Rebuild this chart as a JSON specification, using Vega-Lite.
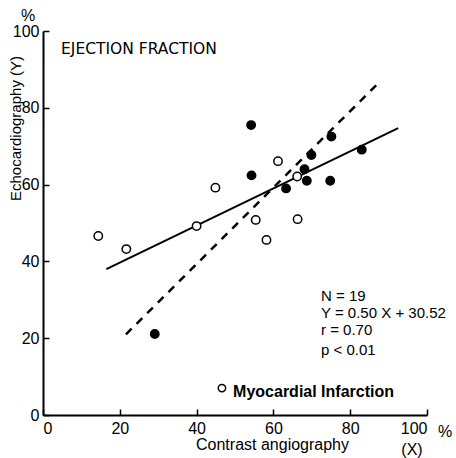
{
  "$schema": "https://vega.github.io/schema/vega-lite/v6.json",
  "width": 384,
  "height": 384,
  "autosize": {"type": "none"},
  "padding": {"left": 43, "top": 31, "right": 29, "bottom": 43},
  "background": "white",
  "config": {
    "view": {"stroke": null},
    "font": "Liberation Sans",
    "axis": {
      "domainColor": "black",
      "domainWidth": 2,
      "tickColor": "black",
      "tickWidth": 1.5,
      "grid": false,
      "labelColor": "black",
      "labelFont": "Liberation Sans",
      "labelFontSize": 16,
      "titleFont": "Liberation Sans",
      "titleFontSize": 16,
      "titleFontWeight": "normal",
      "titleColor": "black"
    }
  },
  "datasets": {
    "points": [
      {"x": 14.4, "y": 46.6, "group": "open"},
      {"x": 21.7, "y": 43.2, "group": "open"},
      {"x": 40.0, "y": 49.2, "group": "open"},
      {"x": 44.9, "y": 59.2, "group": "open"},
      {"x": 61.2, "y": 66.1, "group": "open"},
      {"x": 66.2, "y": 62.1, "group": "open"},
      {"x": 55.4, "y": 50.8, "group": "open"},
      {"x": 58.2, "y": 45.6, "group": "open"},
      {"x": 66.3, "y": 51.0, "group": "open"},
      {"x": 29.1, "y": 21.1, "group": "filled"},
      {"x": 54.2, "y": 75.5, "group": "filled"},
      {"x": 54.3, "y": 62.4, "group": "filled"},
      {"x": 63.3, "y": 59.0, "group": "filled"},
      {"x": 68.1, "y": 64.0, "group": "filled"},
      {"x": 68.7, "y": 61.0, "group": "filled"},
      {"x": 69.9, "y": 67.7, "group": "filled"},
      {"x": 74.8, "y": 61.0, "group": "filled"},
      {"x": 75.1, "y": 72.5, "group": "filled"},
      {"x": 83.0, "y": 69.1, "group": "filled"}
    ],
    "fit": [
      {"x": 16.5, "y": 38.0},
      {"x": 92.5, "y": 74.7}
    ],
    "identity": [
      {"x": 21.6, "y": 21.0},
      {"x": 86.9, "y": 86.0}
    ],
    "stats": [
      {"x": 72.4, "y": 31.0, "text": "N = 19"},
      {"x": 72.4, "y": 26.6, "text": "Y = 0.50 X + 30.52"},
      {"x": 72.4, "y": 22.1, "text": "r  = 0.70"},
      {"x": 72.4, "y": 17.0, "text": "p < 0.01"}
    ],
    "heading": [
      {"x": 4.7, "y": 95.3, "text": "EJECTION  FRACTION"}
    ],
    "legendtext": [
      {"x": 49.5, "y": 6.0, "text": "Myocardial Infarction"}
    ],
    "units": [
      {"x": -3.9, "y": 104.0, "text": "%"},
      {"x": 104.7, "y": -4.4, "text": "%"},
      {"x": 96.1, "y": -9.1, "text": "(X)"}
    ],
    "legendmark": [
      {"x": 46.6, "y": 7.0}
    ]
  },
  "layer": [
    {
      "data": {"name": "fit"},
      "mark": {"type": "line", "color": "black", "strokeWidth": 2},
      "encoding": {
        "x": {
          "field": "x", "type": "quantitative",
          "scale": {"domain": [0, 100], "nice": false},
          "axis": {
            "values": [0, 10, 20, 30, 40, 50, 60, 70, 80, 90, 100],
            "labelExpr": "datum.value % 20 == 0 ? datum.label : ''",
            "tickSize": -6,
            "labelPadding": 11,
            "labelBaseline": "top",
            "title": "Contrast  angiography",
            "titleX": 229,
            "titleY": 29,
            "titleBaseline": "middle",
            "titleAlign": "center"
          }
        },
        "y": {
          "field": "y", "type": "quantitative",
          "scale": {"domain": [0, 100], "nice": false},
          "axis": {
            "values": [0, 10, 20, 30, 40, 50, 60, 70, 80, 90, 100],
            "labelExpr": "datum.value % 20 == 0 ? datum.label : ''",
            "tickSize": -6,
            "labelPadding": 10,
            "title": "Echocardiography (Y)",
            "titleFontSize": 15,
            "titleX": -28,
            "titleY": 97,
            "titleAngle": 270,
            "titleAlign": "center",
            "titleBaseline": "middle"
          }
        }
      }
    },
    {
      "data": {"name": "identity"},
      "mark": {"type": "line", "color": "black", "strokeWidth": 2.5, "strokeDash": [8, 7]},
      "encoding": {
        "x": {"field": "x", "type": "quantitative"},
        "y": {"field": "y", "type": "quantitative"}
      }
    },
    {
      "data": {"name": "points"},
      "mark": {"type": "point", "shape": "circle", "filled": true, "stroke": "black", "strokeWidth": 1.5, "opacity": 1, "size": 70},
      "encoding": {
        "x": {"field": "x", "type": "quantitative"},
        "y": {"field": "y", "type": "quantitative"},
        "fill": {"field": "group", "type": "nominal", "scale": {"domain": ["open", "filled"], "range": ["white", "black"]}, "legend": null}
      }
    },
    {
      "data": {"name": "legendmark"},
      "mark": {"type": "point", "shape": "circle", "filled": false, "stroke": "black", "strokeWidth": 1.5, "opacity": 1, "size": 55},
      "encoding": {
        "x": {"field": "x", "type": "quantitative"},
        "y": {"field": "y", "type": "quantitative"}
      }
    },
    {
      "data": {"name": "stats"},
      "mark": {"type": "text", "align": "left", "baseline": "middle", "font": "Liberation Sans", "fontSize": 15, "color": "black"},
      "encoding": {
        "x": {"field": "x", "type": "quantitative"},
        "y": {"field": "y", "type": "quantitative"},
        "text": {"field": "text"}
      }
    },
    {
      "data": {"name": "heading"},
      "mark": {"type": "text", "align": "left", "baseline": "middle", "font": "DejaVu Sans", "fontSize": 15.5, "color": "black"},
      "encoding": {
        "x": {"field": "x", "type": "quantitative"},
        "y": {"field": "y", "type": "quantitative"},
        "text": {"field": "text"}
      }
    },
    {
      "data": {"name": "legendtext"},
      "mark": {"type": "text", "align": "left", "baseline": "middle", "font": "Liberation Sans", "fontSize": 16, "fontWeight": 600, "color": "black"},
      "encoding": {
        "x": {"field": "x", "type": "quantitative"},
        "y": {"field": "y", "type": "quantitative"},
        "text": {"field": "text"}
      }
    },
    {
      "data": {"name": "units"},
      "mark": {"type": "text", "align": "center", "baseline": "middle", "font": "Liberation Sans", "fontSize": 16, "color": "black"},
      "encoding": {
        "x": {"field": "x", "type": "quantitative"},
        "y": {"field": "y", "type": "quantitative"},
        "text": {"field": "text"}
      }
    }
  ]
}
